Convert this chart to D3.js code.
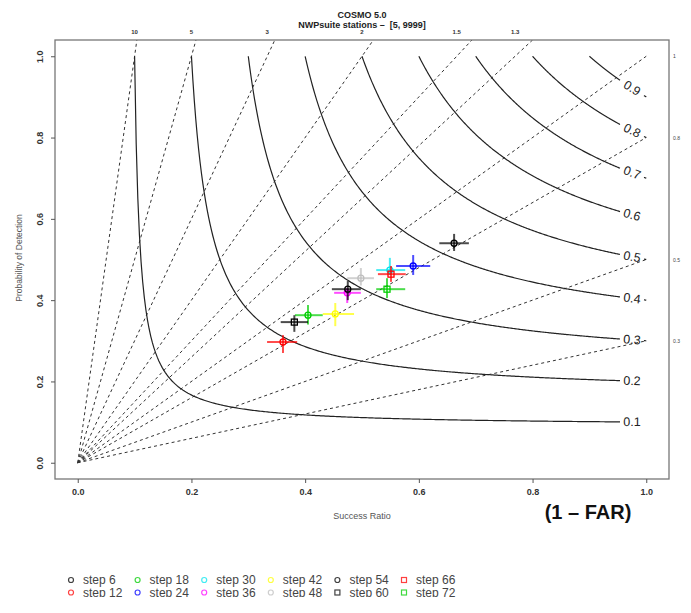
<!DOCTYPE html>
<html><head><meta charset="utf-8">
<script src="https://cdn.jsdelivr.net/npm/d3@7"></script>
<style>
body{margin:0;background:#fff}
svg{display:block}
text{font-family:"Liberation Sans",Arial,Helvetica,sans-serif;white-space:pre}
</style>
</head><body>
<svg id="chart" width="691" height="613"></svg>
<script>
// ---------- data ----------
const steps = ["step 6","step 12","step 18","step 24","step 30","step 36","step 42","step 48","step 54","step 60","step 66","step 72"];
const stepColors = ["#000000","#FF0000","#00CD00","#0000FF","#00E5EE","#FF00FF","#FFFF00","#BEBEBE","#000000","#000000","#FF0000","#00CD00"];
const stepSymbols = ["circle","circle","circle","circle","circle","circle","circle","circle","circle","square","square","square"];
const successRatio = [0.662,0.361,0.405,0.590,0.549,0.474,0.453,0.498,0.475,0.381,0.551,0.544];
const srLow        = [0.636,0.333,0.382,0.560,0.525,0.451,0.431,0.474,0.447,0.357,0.528,0.525];
const srHigh       = [0.688,0.386,0.431,0.620,0.576,0.498,0.486,0.521,0.498,0.405,0.577,0.576];
const pod          = [0.540,0.297,0.363,0.484,0.474,0.418,0.366,0.454,0.427,0.346,0.464,0.427];
const podLow       = [0.521,0.270,0.340,0.462,0.462,0.393,0.336,0.436,0.400,0.322,0.445,0.405];
const podHigh      = [0.563,0.314,0.388,0.511,0.504,0.430,0.393,0.479,0.447,0.363,0.484,0.454];
const csiLevels = [0.1,0.2,0.3,0.4,0.5,0.6,0.7,0.8,0.9];
const biasLevels = [10,5,3,2,1.5,1.3,1,0.8,0.5,0.3];
const biasLabels = ["10","5","3","2","1.5","1.3","1","0.8","0.5","0.3"];
const axisTicks = [0,0.2,0.4,0.6,0.8,1.0];
const titleLines = ["COSMO 5.0","NWPsuite stations \u2013  [5, 9999]"];

// ---------- layout ----------
const svg = d3.select("#chart");
const x = d3.scaleLinear().domain([-0.04,1.04]).range([55,669]);
const y = d3.scaleLinear().domain([-0.04,1.04]).range([479,40]);

svg.append("defs").append("clipPath").attr("id","plotclip")
  .append("rect").attr("x",x(-0.04)).attr("y",y(1.04)).attr("width",x(1.04)-x(-0.04)).attr("height",y(-0.04)-y(1.04));
svg.select("defs").append("clipPath").attr("id","legclip")
  .append("rect").attr("x",0).attr("y",0).attr("width",691).attr("height",597);

const plot = svg.append("g").attr("clip-path","url(#plotclip)");

// bias lines: segment (0,0)-(1,b) clipped to plot region
biasLevels.forEach(b=>{
  let ex=1, ey=b;
  if (b>1.04){ ex=1.04/b; ey=1.04; }
  plot.append("line")
    .attr("x1",x(0)).attr("y1",y(0)).attr("x2",x(ex)).attr("y2",y(ey))
    .attr("stroke","#333").attr("stroke-width",1).attr("stroke-dasharray","3,3");
});

// CSI contours
const csiPod = (c,sr)=>1/(1/c+1-1/sr);
const line = d3.line().x(d=>x(d[0])).y(d=>y(d[1]));
const srGapA = x.invert(620), srGapB = x.invert(644), srLab = x.invert(632);
const pxRatio = (y(0)-y(1))/(x(1)-x(0));
csiLevels.forEach(c=>{
  const seg1=[], seg2=[];
  const n=300;
  for(let i=0;i<=n;i++){
    const sr = c + (srGapA-c)*i/n;
    seg1.push([sr, Math.min(1,csiPod(c,sr))]);
  }
  for(let i=0;i<=20;i++){
    const sr = srGapB + (1-srGapB)*i/20;
    seg2.push([sr, csiPod(c,sr)]);
  }
  const segs = (c<0.25 || Math.abs(c-0.6)<1e-9) ? [seg1] : [seg1,seg2];
  segs.forEach(s=>plot.append("path").attr("d",line(s))
     .attr("fill","none").attr("stroke","#222").attr("stroke-width",1.2));
  const pm = csiPod(c,srLab);
  const ang = Math.atan(pm*pm/(srLab*srLab)*pxRatio)*180/Math.PI;
  svg.append("text").attr("transform",`translate(${x(srLab)},${y(pm)}) rotate(${ang})`)
    .attr("text-anchor","middle").attr("dominant-baseline","central")
    .attr("font-size",12.5).attr("fill","#222").text(String(c));
});

// data crosses
const pts = svg.append("g");
steps.forEach((s,i)=>{
  const col = stepColors[i];
  const g = pts.append("g").attr("stroke",col).attr("fill","none");
  g.append("line").attr("x1",x(srLow[i])).attr("x2",x(srHigh[i])).attr("y1",y(pod[i])).attr("y2",y(pod[i]))
    .attr("stroke-width",2).attr("stroke-opacity",0.7);
  g.append("line").attr("x1",x(successRatio[i])).attr("x2",x(successRatio[i])).attr("y1",y(podLow[i])).attr("y2",y(podHigh[i]))
    .attr("stroke-width",2).attr("stroke-opacity",0.7);
  if(stepSymbols[i]==="circle"){
    g.append("circle").attr("cx",x(successRatio[i])).attr("cy",y(pod[i])).attr("r",3).attr("stroke-width",1.3);
  } else {
    g.append("rect").attr("x",x(successRatio[i])-3).attr("y",y(pod[i])-3).attr("width",6).attr("height",6).attr("stroke-width",1.3);
  }
});

// box
svg.append("rect").attr("x",x(-0.04)).attr("y",y(1.04)).attr("width",x(1.04)-x(-0.04)).attr("height",y(-0.04)-y(1.04))
  .attr("fill","none").attr("stroke","#777").attr("stroke-width",1.3);

// bottom axis
const xAxis = d3.axisBottom(x).tickValues(axisTicks).tickFormat(d3.format(".1f")).tickSize(4).tickPadding(6);
const gx = svg.append("g").attr("transform",`translate(0,${y(-0.04)})`).call(xAxis);
gx.select(".domain").remove();
gx.selectAll(".tick line").attr("stroke","#555");
gx.selectAll("text").attr("font-size",9).attr("font-weight","bold").attr("fill","#333").attr("font-family","Liberation Sans, Arial, sans-serif");

// left axis
const yAxis = d3.axisLeft(y).tickValues(axisTicks).tickFormat(d3.format(".1f")).tickSize(4).tickPadding(6);
const gy = svg.append("g").attr("transform",`translate(${x(-0.04)},0)`).call(yAxis);
gy.select(".domain").remove();
gy.selectAll(".tick line").attr("stroke","#555");
gy.selectAll("text").attr("font-size",9).attr("font-weight","bold").attr("fill","#333").attr("font-family","Liberation Sans, Arial, sans-serif")
  .attr("x",null).attr("dy",null).attr("text-anchor","middle")
  .attr("transform","translate(-12,0) rotate(-90)");

// top (bias) labels and right labels
biasLevels.forEach((b,i)=>{
  if(b>1){
    svg.append("text").attr("x",x(1/b)).attr("y",34).attr("text-anchor","middle")
      .attr("font-size",6).attr("font-weight","bold").attr("fill","#333").text(biasLabels[i]);
  } else {
    svg.append("text").attr("x",673).attr("y",y(b)+2).attr("text-anchor","start")
      .attr("font-size",5).attr("fill","#444").text(biasLabels[i]);
  }
});

// titles
svg.append("text").attr("x",362).attr("y",18).attr("text-anchor","middle").attr("font-size",9).attr("font-weight","bold").attr("fill","#222").text(titleLines[0]);
svg.append("text").attr("x",362).attr("y",28).attr("text-anchor","middle").attr("font-size",9).attr("font-weight","bold").attr("fill","#222").text(titleLines[1]);

svg.append("text").attr("x",362).attr("y",519).attr("text-anchor","middle").attr("font-size",9).attr("fill","#555").text("Success Ratio");
svg.append("text").attr("x",588).attr("y",519).attr("text-anchor","middle").attr("font-size",20).attr("font-weight","bold").attr("fill","#111").text("(1 \u2013 FAR)");
svg.append("text").attr("transform","translate(22,258) rotate(-90)").attr("text-anchor","middle").attr("font-size",8.5).attr("fill","#555").text("Probability of Detection");

// legend
const leg = svg.append("g").attr("clip-path","url(#legclip)");
steps.forEach((s,i)=>{
  const col = Math.floor(i/2), row = i%2;
  const lx = 71 + col*66.6, ly = 580 + row*12.5;
  const g = leg.append("g");
  if(stepSymbols[i]==="circle"){
    g.append("circle").attr("cx",lx).attr("cy",ly).attr("r",2.5).attr("fill","none").attr("stroke",stepColors[i]).attr("stroke-width",1.2).attr("stroke-opacity",0.75);
  } else {
    g.append("rect").attr("x",lx-2.5).attr("y",ly-2.5).attr("width",5).attr("height",5).attr("fill","none").attr("stroke",stepColors[i]).attr("stroke-width",1.2).attr("stroke-opacity",0.75);
  }
  g.append("text").attr("x",lx+12).attr("y",ly+4).attr("font-size",12).attr("fill","#444").text(s);
});
</script>
</body></html>
